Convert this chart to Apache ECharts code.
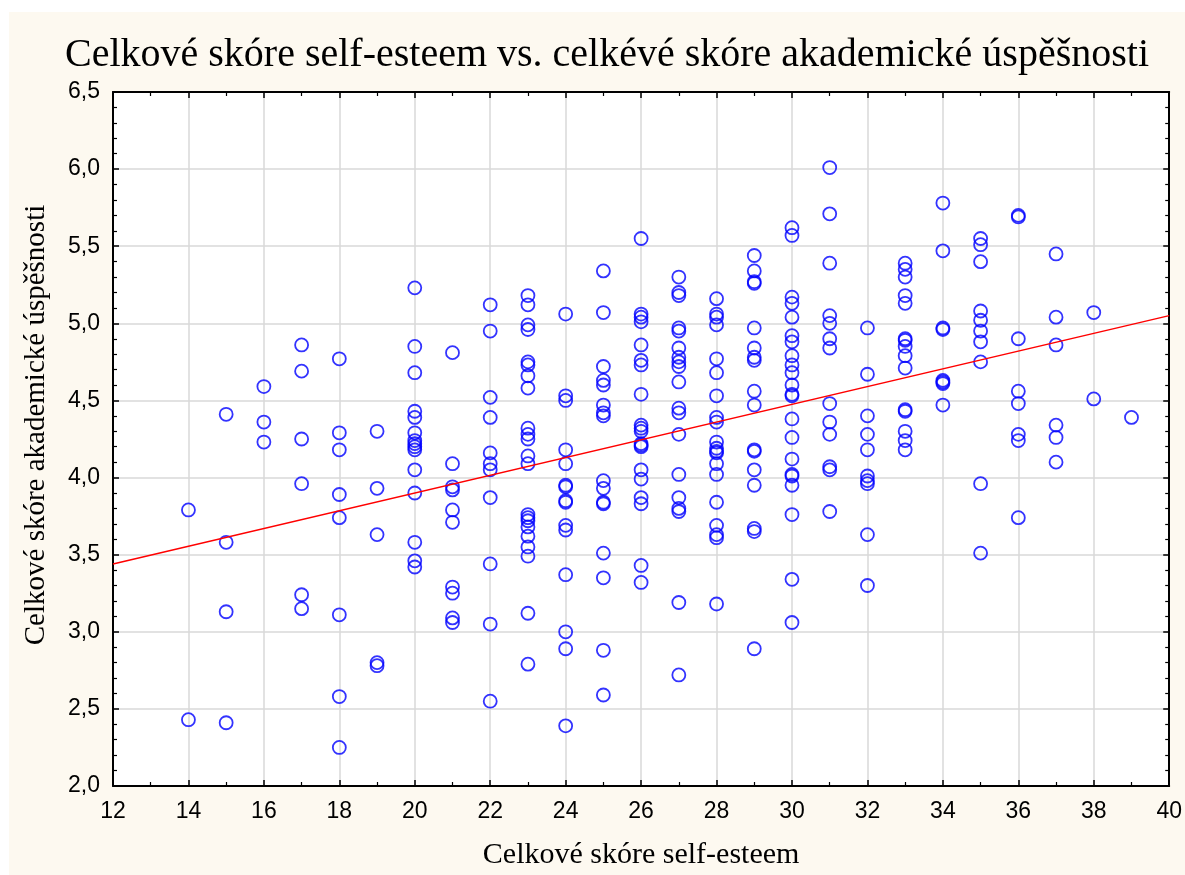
<!DOCTYPE html>
<html>
<head>
<meta charset="utf-8">
<script src="https://cdn.jsdelivr.net/npm/echarts@6/dist/echarts.min.js"></script>
<style>
html,body{margin:0;padding:0;background:#ffffff;}
#bg{position:absolute;left:9px;top:12px;width:1176px;height:863px;background:#FDF9F0;}
#chart{position:absolute;left:0;top:0;width:1185px;height:875px;}
</style>
</head>
<body>
<div id="bg"></div>
<div id="chart"></div>
<script>
// Self-esteem score (x) columns and the academic-success scores observed at each
const selfEsteemScores = [14,15,16,17,18,19,20,21,22,23,24,25,26,27,28,29,30,31,32,33,34,35,36,37,38,39];
const academicByScore = [
  [3.79, 2.43],
  [4.41, 3.58, 3.13, 2.41],
  [4.59, 4.36, 4.23],
  [4.86, 4.69, 4.25, 3.96, 3.24, 3.15],
  [4.77, 4.29, 4.18, 3.89, 3.74, 3.11, 2.58, 2.25],
  [4.30, 3.93, 3.63, 2.80, 2.78],
  [5.23, 4.85, 4.68, 4.43, 4.39, 4.29, 4.24, 4.22, 4.20, 4.18, 4.05, 3.90, 3.58, 3.46, 3.42],
  [4.81, 4.09, 3.94, 3.92, 3.79, 3.71, 3.29, 3.25, 3.09, 3.06],
  [5.12, 4.95, 4.52, 4.39, 4.16, 4.09, 4.05, 3.87, 3.44, 3.05, 2.55],
  [5.18, 5.12, 4.99, 4.96, 4.75, 4.73, 4.66, 4.58, 4.32, 4.28, 4.25, 4.14, 4.09, 3.76, 3.74, 3.72, 3.68, 3.62, 3.55, 3.49, 3.12, 2.79],
  [5.06, 4.53, 4.50, 4.18, 4.09, 3.95, 3.94, 3.85, 3.84, 3.69, 3.66, 3.37, 3.00, 2.89, 2.39],
  [5.34, 5.07, 4.72, 4.63, 4.60, 4.47, 4.42, 4.40, 3.98, 3.93, 3.84, 3.83, 3.51, 3.35, 2.88, 2.59],
  [5.55, 5.06, 5.04, 5.01, 4.86, 4.76, 4.73, 4.54, 4.34, 4.32, 4.30, 4.22, 4.21, 4.20, 4.05, 3.99, 3.87, 3.83, 3.43, 3.32],
  [5.30, 5.20, 5.18, 4.97, 4.95, 4.84, 4.78, 4.75, 4.72, 4.62, 4.45, 4.42, 4.28, 4.02, 3.87, 3.80, 3.78, 3.19, 2.72],
  [5.16, 5.06, 5.04, 4.99, 4.77, 4.68, 4.53, 4.39, 4.36, 4.23, 4.19, 4.17, 4.16, 4.09, 4.02, 3.84, 3.69, 3.63, 3.61, 3.18],
  [5.44, 5.34, 5.27, 5.26, 4.97, 4.84, 4.78, 4.76, 4.56, 4.47, 4.18, 4.17, 4.05, 3.95, 3.67, 3.65, 2.89],
  [5.62, 5.57, 5.17, 5.13, 5.04, 4.92, 4.88, 4.79, 4.73, 4.68, 4.60, 4.54, 4.53, 4.38, 4.26, 4.12, 4.02, 4.01, 3.95, 3.76, 3.34, 3.06],
  [6.01, 5.71, 5.39, 5.05, 5.00, 4.90, 4.84, 4.48, 4.36, 4.28, 4.07, 4.05, 3.78],
  [4.97, 4.67, 4.40, 4.28, 4.18, 4.01, 3.98, 3.96, 3.63, 3.30],
  [5.39, 5.35, 5.30, 5.18, 5.13, 4.90, 4.89, 4.85, 4.79, 4.71, 4.44, 4.43, 4.30, 4.24, 4.18],
  [5.78, 5.47, 4.97, 4.96, 4.63, 4.62, 4.61, 4.47],
  [5.55, 5.51, 5.40, 5.08, 5.02, 4.95, 4.88, 4.75, 3.96, 3.51],
  [5.70, 5.69, 4.90, 4.56, 4.48, 4.28, 4.24, 3.74],
  [5.45, 5.04, 4.86, 4.34, 4.26, 4.10],
  [5.07, 4.51],
  [4.39]
];
// Fitted regression line, read at the plot's left and right edges
const fitX = [12, 40];
const fitY = [3.44, 5.05];
const xTicks = [12,14,16,18,20,22,24,26,28,30,32,34,36,38,40];
const yTicks = ['2,0','2,5','3,0','3,5','4,0','4,5','5,0','5,5','6,0','6,5'];

const titleText = 'Celkové skóre self-esteem vs. celkévé skóre akademické úspěšnosti';
const xName = 'Celkové skóre self-esteem';
const yName = 'Celkové skóre akademické úspěšnosti';

const points = [];
selfEsteemScores.forEach((x, i) => academicByScore[i].forEach(y => points.push([x, y])));
const fitLine = fitX.map((x, i) => [x, fitY[i]]);

const chart = echarts.init(document.getElementById('chart'), null, {renderer: 'canvas'});
const serif = 'Liberation Serif';
const sans = 'Liberation Sans';
const tickStyle = {inside: true, length: 6, lineStyle: {color: '#000', width: 1.5}};
const minorStyle = {show: true, splitNumber: 2, length: 4, lineStyle: {color: '#000', width: 1.2}};
const axisLineStyle = {show: true, lineStyle: {color: '#000', width: 2}};

chart.setOption({
  animation: false,
  backgroundColor: 'transparent',
  title: {
    text: titleText,
    left: 602, top: 30, textAlign: 'center',
    textStyle: {fontFamily: serif, fontSize: 40, fontWeight: 'normal', color: '#000'}
  },
  grid: {left: 113, top: 92, width: 1059, height: 698, show: true, backgroundColor: '#fff', borderWidth: 0},
  xAxis: [{
    type: 'value', min: 12, max: 40, interval: 2,
    name: xName, nameLocation: 'middle', nameGap: 54,
    nameTextStyle: {fontFamily: serif, fontSize: 30, color: '#000'},
    axisLine: axisLineStyle,
    axisTick: tickStyle,
    minorTick: Object.assign({}, minorStyle, {splitNumber: 2}),
    axisLabel: {fontFamily: sans, fontSize: 23, color: '#000', margin: 14,
      formatter: v => xTicks.includes(v) ? String(v) : ''},
    splitLine: {show: true, lineStyle: {color: '#D9D9D9', width: 1.5}}
  }, {
    type: 'value', min: 12, max: 40, interval: 2, position: 'top',
    axisLine: axisLineStyle, axisTick: tickStyle,
    minorTick: Object.assign({}, minorStyle, {splitNumber: 2}),
    axisLabel: {show: false}, splitLine: {show: false}
  }],
  yAxis: [{
    type: 'value', min: 2, max: 6.5, interval: 0.5,
    name: yName, nameLocation: 'middle', nameGap: 62, nameRotate: 90,
    nameTextStyle: {fontFamily: serif, fontSize: 29, color: '#000', padding: [0, 0, 0, 28]},
    axisLine: axisLineStyle, axisTick: tickStyle,
    minorTick: Object.assign({}, minorStyle, {splitNumber: 5}),
    axisLabel: {fontFamily: sans, fontSize: 23, color: '#000', margin: 13,
      formatter: v => yTicks[Math.round((v - 2) / 0.5)] || ''},
    splitLine: {show: true, lineStyle: {color: '#D9D9D9', width: 1.5}}
  }, {
    type: 'value', min: 2, max: 6.5, interval: 0.5, position: 'right',
    axisLine: axisLineStyle, axisTick: tickStyle,
    minorTick: Object.assign({}, minorStyle, {splitNumber: 5}),
    axisLabel: {show: false}, splitLine: {show: false}
  }],
  series: [{
    type: 'scatter', data: points, symbol: 'circle', symbolSize: 13,
    itemStyle: {color: 'rgba(0,0,0,0)', borderColor: '#0000FF', borderWidth: 1.8},
    emphasis: {disabled: true}, z: 3
  }, {
    type: 'line', data: fitLine, symbol: 'none', silent: true,
    lineStyle: {color: '#FF0000', width: 1.5}, z: 4
  }]
});
</script>
</body>
</html>
